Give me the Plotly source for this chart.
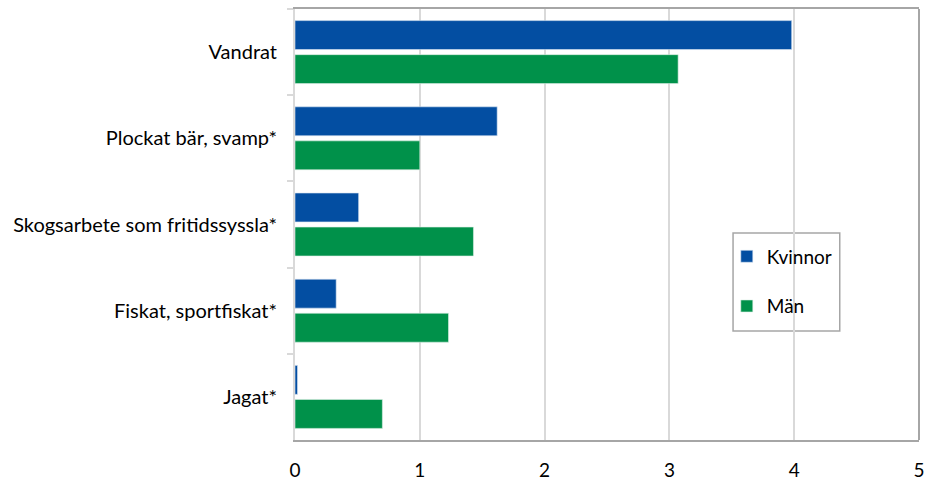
import plotly.graph_objects as go

categories = ["Vandrat", "Plockat bär, svamp*", "Skogsarbete som fritidssyssla*", "Fiskat, sportfiskat*", "Jagat*"]
kvinnor = [3.98, 1.62, 0.51, 0.33, 0.02]
man = [3.07, 1.00, 1.43, 1.23, 0.70]
x_ticks = [0, 1, 2, 3, 4, 5]

FONT = "Lato"

fig = go.Figure()
fig.add_trace(go.Bar(y=categories, x=kvinnor, name="Kvinnor", orientation="h",
                     marker=dict(color="#034EA2", line=dict(color="#dce6f2", width=0.6)),
                     legendgroup="k"))
fig.add_trace(go.Bar(y=categories, x=man, name="Män", orientation="h",
                     marker=dict(color="#00914A", line=dict(color="#dcefe4", width=0.6)),
                     legendgroup="m"))

fig.update_layout(
    width=926, height=480,
    margin=dict(l=295, r=7, t=9, b=40, autoexpand=False),
    paper_bgcolor="white", plot_bgcolor="white",
    barmode="group", bargap=0.21, bargroupgap=0.15,
    font=dict(family=FONT, size=20, color="#000000"),
    showlegend=True,
    legend=dict(x=0.692, xanchor="left", y=0.47, yanchor="top",
                bgcolor="rgba(0,0,0,0)", borderwidth=0,
                font=dict(family=FONT, size=19, color="#000000"),
                tracegroupgap=22, itemwidth=30),
    xaxis=dict(range=[0, 5], tickvals=x_ticks, showgrid=True, gridcolor="#d9d9d9", gridwidth=1.5,
               showline=True, linecolor="#a6a6a6", linewidth=2, mirror=True,
               zeroline=False, ticks="", ticklabelstandoff=12, automargin=False,
               ticklabeloverflow="allow",
               tickfont=dict(family=FONT, size=19)),
    yaxis=dict(autorange="reversed", showline=True, linecolor="#d9d9d9", linewidth=2,
               ticks="outside", tickson="boundaries", ticklen=6, tickcolor="#d9d9d9", tickwidth=1.5,
               ticklabelstandoff=12, showgrid=False, automargin=False,
               tickfont=dict(family=FONT, size=20)),
    shapes=[
        dict(type="line", xref="paper", yref="paper", x0=1, x1=1, y0=0, y1=1,
             line=dict(color="#a6a6a6", width=2), layer="above"),
        dict(type="rect", xref="paper", yref="paper", x0=0.702, x1=0.873, y0=0.253, y1=0.48,
             line=dict(color="#a6a6a6", width=1.5), fillcolor="white", layer="below"),
    ],
)

fig.write_html("out.html", config={"displayModeBar": False},
               post_script="document.body.style.margin='0';document.body.style.overflow='hidden';")
